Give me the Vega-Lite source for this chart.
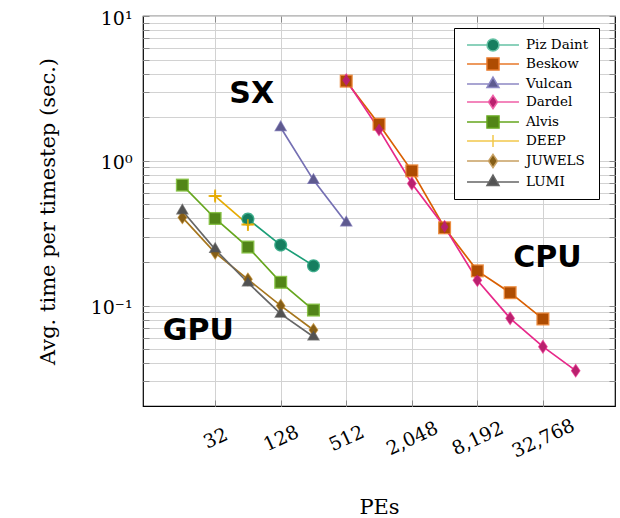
{
  "$schema": "https://vega.github.io/schema/vega-lite/v6.json",
  "width": 472,
  "height": 390,
  "autosize": {"type": "none"},
  "padding": {"left": 143, "top": 16, "right": 5, "bottom": 112},
  "background": "white",
  "config": {
    "view": {"stroke": "black", "strokeWidth": 1.2},
    "axis": {"domain": false, "grid": true, "gridColor": "#d2d2d2", "gridWidth": 1, "tickColor": "#8a8a8a", "tickSize": -6, "labelFont": "DejaVu Serif", "labelFontSize": 19, "labelColor": "black", "titleFont": "DejaVu Serif", "titleFontSize": 21, "titleFontWeight": "normal", "titleColor": "black"},
    "legend": {"orient": "none", "legendX": 311, "legendY": 12, "labelFont": "DejaVu Serif", "labelFontSize": 13.5, "labelColor": "black", "symbolSize": 144, "symbolOffset": 22, "labelOffset": 26, "rowPadding": 1, "padding": 10, "strokeColor": "black", "fillColor": "white", "cornerRadius": 0}
  },
  "resolve": {"scale": {"shape": "independent", "fill": "independent", "stroke": "independent", "color": "independent"}, "axis": {"x": "independent", "y": "independent"}},
  "datasets": {
    "runs": [
      {"system": "Beskow", "pes": 512, "time": 3.55},
      {"system": "Beskow", "pes": 1024, "time": 1.79},
      {"system": "Beskow", "pes": 2048, "time": 0.853},
      {"system": "Beskow", "pes": 4096, "time": 0.345},
      {"system": "Beskow", "pes": 8192, "time": 0.174},
      {"system": "Beskow", "pes": 16384, "time": 0.123},
      {"system": "Beskow", "pes": 32768, "time": 0.081},
      {"system": "Dardel", "pes": 512, "time": 3.6},
      {"system": "Dardel", "pes": 1024, "time": 1.65},
      {"system": "Dardel", "pes": 2048, "time": 0.698},
      {"system": "Dardel", "pes": 4096, "time": 0.35},
      {"system": "Dardel", "pes": 8192, "time": 0.150},
      {"system": "Dardel", "pes": 16384, "time": 0.0818},
      {"system": "Dardel", "pes": 32768, "time": 0.0521},
      {"system": "Dardel", "pes": 65536, "time": 0.0356},
      {"system": "Vulcan", "pes": 128, "time": 1.70},
      {"system": "Vulcan", "pes": 256, "time": 0.736},
      {"system": "Vulcan", "pes": 512, "time": 0.374},
      {"system": "Piz Daint", "pes": 64, "time": 0.396},
      {"system": "Piz Daint", "pes": 128, "time": 0.262},
      {"system": "Piz Daint", "pes": 256, "time": 0.189},
      {"system": "Alvis", "pes": 16, "time": 0.68},
      {"system": "Alvis", "pes": 32, "time": 0.40},
      {"system": "Alvis", "pes": 64, "time": 0.254},
      {"system": "Alvis", "pes": 128, "time": 0.145},
      {"system": "Alvis", "pes": 256, "time": 0.0933},
      {"system": "DEEP", "pes": 32, "time": 0.571},
      {"system": "DEEP", "pes": 64, "time": 0.364},
      {"system": "JUWELS", "pes": 16, "time": 0.407},
      {"system": "JUWELS", "pes": 32, "time": 0.232},
      {"system": "JUWELS", "pes": 64, "time": 0.152},
      {"system": "JUWELS", "pes": 128, "time": 0.1},
      {"system": "JUWELS", "pes": 256, "time": 0.068},
      {"system": "LUMI", "pes": 16, "time": 0.452},
      {"system": "LUMI", "pes": 32, "time": 0.245},
      {"system": "LUMI", "pes": 64, "time": 0.144},
      {"system": "LUMI", "pes": 128, "time": 0.0877},
      {"system": "LUMI", "pes": 256, "time": 0.061}
    ],
    "notes": [
      {"label": "SX", "pes": 69.4, "time": 2.91},
      {"label": "CPU", "pes": 36030, "time": 0.212},
      {"label": "GPU", "pes": 22.4, "time": 0.0671}
    ]
  },
  "layer": [
    {
      "data": {"name": "runs"},
      "mark": {"type": "line", "strokeWidth": 1.7},
      "encoding": {
        "x": {"field": "pes", "type": "quantitative",
          "scale": {"type": "log", "base": 2, "domain": [6.96, 150500], "nice": false, "zero": false},
          "axis": {"orient": "bottom", "values": [32, 128, 512, 2048, 8192, 32768], "format": ",d", "labelAngle": -25, "labelAlign": "center", "labelBaseline": "middle", "labelPadding": 38, "title": "PEs", "titlePadding": 35}},
        "y": {"field": "time", "type": "quantitative",
          "scale": {"type": "log", "domain": [0.0203, 10], "nice": false, "zero": false},
          "axis": {"orient": "left", "values": [0.03, 0.04, 0.05, 0.06, 0.07, 0.08, 0.09, 0.1, 0.2, 0.3, 0.4, 0.5, 0.6, 0.7, 0.8, 0.9, 1, 2, 3, 4, 5, 6, 7, 8, 9, 10],
            "labelExpr": "datum.value == 10 ? '10¹' : datum.value == 1 ? '10⁰' : datum.value == 0.1 ? '10⁻¹' : ''",
            "labelPadding": 17, "labelOffset": 2, "title": "Avg. time per timestep (sec.)", "titlePadding": 32}},
        "stroke": {"field": "system", "type": "nominal",
          "scale": {"domain": ["Piz Daint", "Beskow", "Vulcan", "Dardel", "Alvis", "DEEP", "JUWELS", "LUMI"],
            "range": ["#1b9e77", "#d95f02", "#7570b3", "#e7298a", "#66a61e", "#e6ab02", "#a6761d", "#666666"]},
          "legend": null},
        "order": {"field": "pes", "type": "quantitative"}
      }
    },
    {
      "data": {"name": "runs"},
      "mark": {"type": "point", "filled": true, "size": 170, "opacity": 0.85},
      "encoding": {
        "x": {"field": "pes", "type": "quantitative", "axis": null},
        "y": {"field": "time", "type": "quantitative", "axis": null},
        "color": {"field": "system", "type": "nominal",
          "scale": {"domain": ["Piz Daint", "Beskow", "Vulcan", "Dardel", "Alvis", "DEEP", "JUWELS", "LUMI"],
            "range": ["#1b9e77", "#e8781f", "#7570b3", "#e7298a", "#76b82a", "#e6ab02", "#b88425", "#666666"]},
          "legend": null},
        "shape": {"field": "system", "type": "nominal",
          "scale": {"domain": ["Piz Daint", "Beskow", "Vulcan", "Dardel", "Alvis", "DEEP", "JUWELS", "LUMI"],
            "range": [
              "M1,0A1,1,0,1,1,-1,0A1,1,0,1,1,1,0Z",
              "M-1,-1H1V1H-1Z",
              "M0,-1.15L1,0.58H-1Z",
              "M0,-1.1L0.75,0L0,1.1L-0.75,0Z",
              "M-1,-1H1V1H-1Z",
              "M-1,-0.15H-0.15V-1H0.15V-0.15H1V0.15H0.15V1H-0.15V0.15H-1Z",
              "M0,-1.1L0.75,0L0,1.1L-0.75,0Z",
              "M0,-1.15L1,0.58H-1Z"
            ]},
          "legend": null}
      }
    },
    {
      "data": {"name": "runs"},
      "mark": {"type": "point", "filled": true, "size": 110, "opacity": 1},
      "encoding": {
        "x": {"field": "pes", "type": "quantitative", "axis": null},
        "y": {"field": "time", "type": "quantitative", "axis": null},
        "fill": {"field": "system", "type": "nominal",
          "scale": {"domain": ["Piz Daint", "Beskow", "Vulcan", "Dardel", "Alvis", "DEEP", "JUWELS", "LUMI"],
            "range": ["#167e5f", "#ae4c02", "#5e5a8f", "#b9216e", "#528518", "#e6ab02", "#855e17", "#525252"]},
          "legend": null},
        "shape": {"field": "system", "type": "nominal",
          "scale": {"domain": ["Piz Daint", "Beskow", "Vulcan", "Dardel", "Alvis", "DEEP", "JUWELS", "LUMI"],
            "range": [
              "M1,0A1,1,0,1,1,-1,0A1,1,0,1,1,1,0Z",
              "M-1,-1H1V1H-1Z",
              "M0,-1.15L1,0.58H-1Z",
              "M0,-1.1L0.75,0L0,1.1L-0.75,0Z",
              "M-1,-1H1V1H-1Z",
              "M-1,-0.15H-0.15V-1H0.15V-0.15H1V0.15H0.15V1H-0.15V0.15H-1Z",
              "M0,-1.1L0.75,0L0,1.1L-0.75,0Z",
              "M0,-1.15L1,0.58H-1Z"
            ]},
          "legend": null}
      }
    },
    {
      "data": {"name": "runs"},
      "transform": [{"filter": "false"}],
      "mark": {"type": "point", "filled": true, "size": 144, "opacity": 1, "strokeWidth": 1.5},
      "encoding": {
        "x": {"field": "pes", "type": "quantitative",
          "axis": {"orient": "top", "values": [32, 128, 512, 2048, 8192, 32768], "labels": false, "title": null, "grid": false}},
        "y": {"field": "time", "type": "quantitative",
          "axis": {"orient": "right", "values": [0.03, 0.04, 0.05, 0.06, 0.07, 0.08, 0.09, 0.1, 0.2, 0.3, 0.4, 0.5, 0.6, 0.7, 0.8, 0.9, 1, 2, 3, 4, 5, 6, 7, 8, 9, 10], "labels": false, "title": null, "grid": false}},
        "fill": {"field": "system", "type": "nominal",
          "scale": {"domain": ["Piz Daint", "Beskow", "Vulcan", "Dardel", "Alvis", "DEEP", "JUWELS", "LUMI"],
            "range": ["#167e5f", "#ae4c02", "#5e5a8f", "#b9216e", "#528518", "#e6ab02", "#855e17", "#525252"]},
          "legend": {"title": null}},
        "stroke": {"field": "system", "type": "nominal",
          "scale": {"domain": ["Piz Daint", "Beskow", "Vulcan", "Dardel", "Alvis", "DEEP", "JUWELS", "LUMI"],
            "range": ["#66c2a5", "#e8782a", "#8d88c4", "#ef5fa7", "#66a61e", "#f2c84b", "#c8a062", "#666666"]},
          "legend": {"title": null}},
        "shape": {"field": "system", "type": "nominal",
          "scale": {"domain": ["Piz Daint", "Beskow", "Vulcan", "Dardel", "Alvis", "DEEP", "JUWELS", "LUMI"],
            "range": [
              "M-4.33,0H-1M1,0H4.33M1,0A1,1,0,1,1,-1,0A1,1,0,1,1,1,0Z",
              "M-4.33,0H-1M1,0H4.33M-1,-1H1V1H-1Z",
              "M-4.33,0H-0.665M0.665,0H4.33M0,-1.15L1,0.58H-1Z",
              "M-4.33,0H-0.75M0.75,0H4.33M0,-1.1L0.75,0L0,1.1L-0.75,0Z",
              "M-4.33,0H-1M1,0H4.33M-1,-1H1V1H-1Z",
              "M-4.33,0H4.33M0,-1V1",
              "M-4.33,0H-0.75M0.75,0H4.33M0,-1.1L0.75,0L0,1.1L-0.75,0Z",
              "M-4.33,0H-0.665M0.665,0H4.33M0,-1.15L1,0.58H-1Z"
            ]},
          "legend": {"title": null}}
      }
    },
    {
      "data": {"name": "notes"},
      "mark": {"type": "text", "font": "DejaVu Sans", "fontWeight": "bold", "fontSize": 30, "align": "center", "baseline": "middle", "color": "black"},
      "encoding": {
        "x": {"field": "pes", "type": "quantitative", "axis": null},
        "y": {"field": "time", "type": "quantitative", "axis": null},
        "text": {"field": "label", "type": "nominal"}
      }
    }
  ]
}
